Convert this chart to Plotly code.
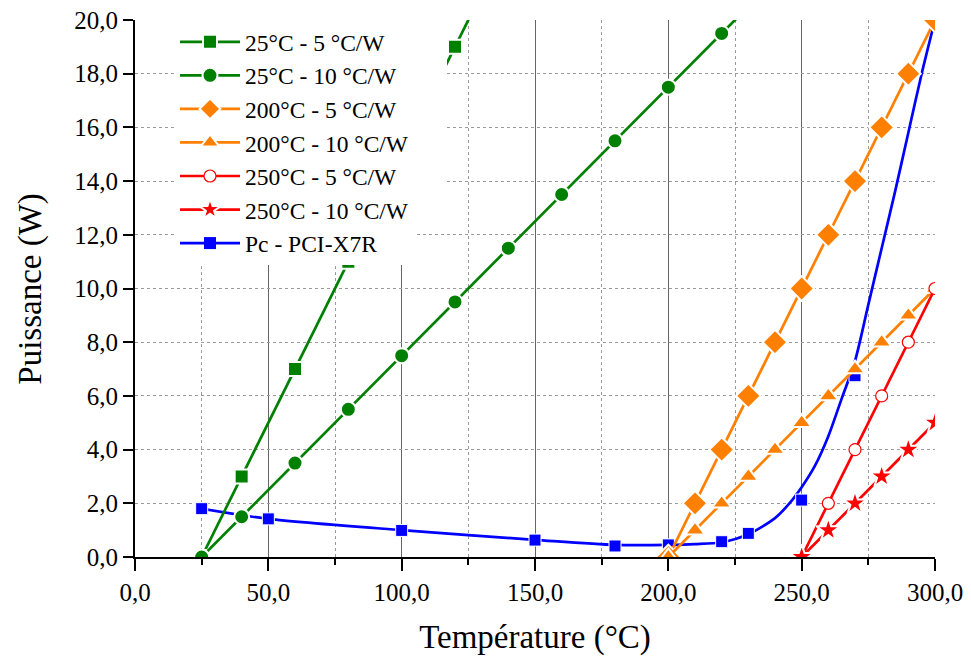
import plotly.graph_objects as go

# ---- data ----
t_25_5 = [25, 40, 60, 80, 100, 120, 140]
p_25_5 = [0, 3, 7, 11, 15, 19, 23]

t_25_10 = [25, 40, 60, 80, 100, 120, 140, 160, 180, 200, 220, 240]
p_25_10 = [0, 1.5, 3.5, 5.5, 7.5, 9.5, 11.5, 13.5, 15.5, 17.5, 19.5, 21.5]

t_200 = [200, 210, 220, 230, 240, 250, 260, 270, 280, 290, 300]
p_200_5 = [0, 2, 4, 6, 8, 10, 12, 14, 16, 18, 20]
p_200_10 = [0, 1, 2, 3, 4, 5, 6, 7, 8, 9, 10]

t_250 = [250, 260, 270, 280, 290, 300]
p_250_5 = [0, 2, 4, 6, 8, 10]
p_250_10 = [0, 1, 2, 3, 4, 5]

t_pc = [25, 50, 100, 150, 180, 200, 220, 230, 250, 270, 300]
p_pc = [1.80, 1.42, 0.99, 0.63, 0.41, 0.45, 0.57, 0.88, 2.12, 6.75, 20.0]

t_pc_curve = [25, 50, 100, 150, 180, 200, 210, 220, 230, 240, 245, 250, 255, 260,
              265, 270, 275, 280, 285, 290, 295, 300]
p_pc_curve = [1.80, 1.42, 1.00, 0.64, 0.45, 0.45, 0.48, 0.55, 0.85, 1.45, 1.95, 2.6,
              3.4, 4.5, 5.9, 7.3, 9.4, 11.5, 13.6, 15.8, 18.0, 20.0]

labels = ["25°C - 5 °C/W", "25°C - 10 °C/W", "200°C - 5 °C/W", "200°C - 10 °C/W",
          "250°C - 5 °C/W", "250°C - 10 °C/W", "Pc - PCI-X7R"]

GREEN = "#008000"
ORANGE = "#FF8000"
RED = "#FF0000"
BLUE = "#0000FF"
FONT = "Liberation Serif"

fig = go.Figure()

# Pc curve & markers (drawn first, underneath)
fig.add_trace(go.Scatter(x=t_pc_curve, y=p_pc_curve, mode="lines",
                         line=dict(color=BLUE, width=2.7, shape="spline", smoothing=0.8),
                         showlegend=False, hoverinfo="skip"))
fig.add_trace(go.Scatter(x=t_pc, y=p_pc, mode="markers",
                         marker=dict(symbol="square", size=12, color=BLUE,
                                     line=dict(color="white", width=1)),
                         showlegend=False))


def add_series(x, y, name, color, symbol, size, rank, open_marker=False):
    if open_marker:
        marker = dict(symbol=symbol, size=size, color="white",
                      line=dict(color=color, width=1.2))
    else:
        marker = dict(symbol=symbol, size=size, color=color,
                      line=dict(color="white", width=2))
    fig.add_trace(go.Scatter(x=x, y=y, mode="lines+markers", name=name,
                             line=dict(color=color, width=2.7),
                             marker=marker, legendrank=rank))


add_series(t_25_5, p_25_5, labels[0], GREEN, "square", 14, 1)
add_series(t_25_10, p_25_10, labels[1], GREEN, "circle", 15, 2)
add_series(t_200, p_200_5, labels[2], ORANGE, "diamond", 19, 3)
add_series(t_200, p_200_10, labels[3], ORANGE, "triangle-up", 17, 4)
add_series(t_250, p_250_5, labels[4], RED, "circle", 12, 5, open_marker=True)
add_series(t_250, p_250_10, labels[5], RED, "star", 18, 6)

# legend entry for Pc
fig.add_trace(go.Scatter(x=[None], y=[None], mode="lines+markers", name=labels[6],
                         line=dict(color=BLUE, width=2.7),
                         marker=dict(symbol="square", size=12, color=BLUE),
                         legendrank=7))

# page body adds an 8px margin, so the figure is sized/shifted to compensate
fig.update_layout(
    width=963, height=648,
    margin=dict(l=127, r=36, t=12, b=99),
    paper_bgcolor="white", plot_bgcolor="white",
    separators=", ",
    font=dict(family=FONT, size=25, color="black"),
    showlegend=True,
    legend=dict(x=0.05, y=1.0, xanchor="left", yanchor="top",
                bgcolor="white", borderwidth=0, itemwidth=60,
                font=dict(family=FONT, size=23.5, color="black"),
                tracegroupgap=0),
    # white legend backing area (as in the original, the legend box masks the curves)
    shapes=[dict(type="rect", xref="paper", yref="paper", layer="above",
                 x0=0.05, x1=0.39, y0=0.64, y1=1.0,
                 fillcolor="white", line=dict(width=0))],
    annotations=[dict(text="Puissance (W)", textangle=-90, xref="paper", yref="paper",
                      x=-0.131, y=0.5, xanchor="center", yanchor="middle",
                      showarrow=False, font=dict(family=FONT, size=33))],
    xaxis=dict(
        range=[0, 300], tick0=0, dtick=50, tickformat=".1f",
        automargin=False, ticklabeloverflow="allow",
        showline=True, linecolor="black", linewidth=2,
        ticks="outside", ticklen=12, tickwidth=2, tickcolor="black",
        showgrid=True, gridcolor="#666666", gridwidth=1,
        zeroline=False,
        tickfont=dict(family=FONT, size=25),
        title=dict(text="Température (°C)", font=dict(family=FONT, size=33), standoff=22),
        minor=dict(dtick=25, tick0=0, ticks="outside", ticklen=6, tickwidth=2,
                   tickcolor="black", showgrid=True, gridcolor="#9a9a9a",
                   griddash="dot", gridwidth=1),
    ),
    yaxis=dict(
        range=[0, 20], tick0=0, dtick=2, tickformat=".1f",
        automargin=False, ticklabeloverflow="allow",
        showline=True, linecolor="black", linewidth=2,
        ticks="outside", ticklen=10, tickwidth=2, tickcolor="black",
        showgrid=True, gridcolor="#9a9a9a", griddash="dot", gridwidth=1,
        zeroline=False,
        tickfont=dict(family=FONT, size=25),
    ),
    yaxis2=dict(
        range=[0, 20], tick0=0, dtick=2, overlaying="y", side="right",
        automargin=False,
        showline=True, linecolor="black", linewidth=2,
        ticks="inside", ticklen=10, tickwidth=2, tickcolor="black",
        showticklabels=False, showgrid=False, zeroline=False,
    ),
)

fig.write_html("out.html")
